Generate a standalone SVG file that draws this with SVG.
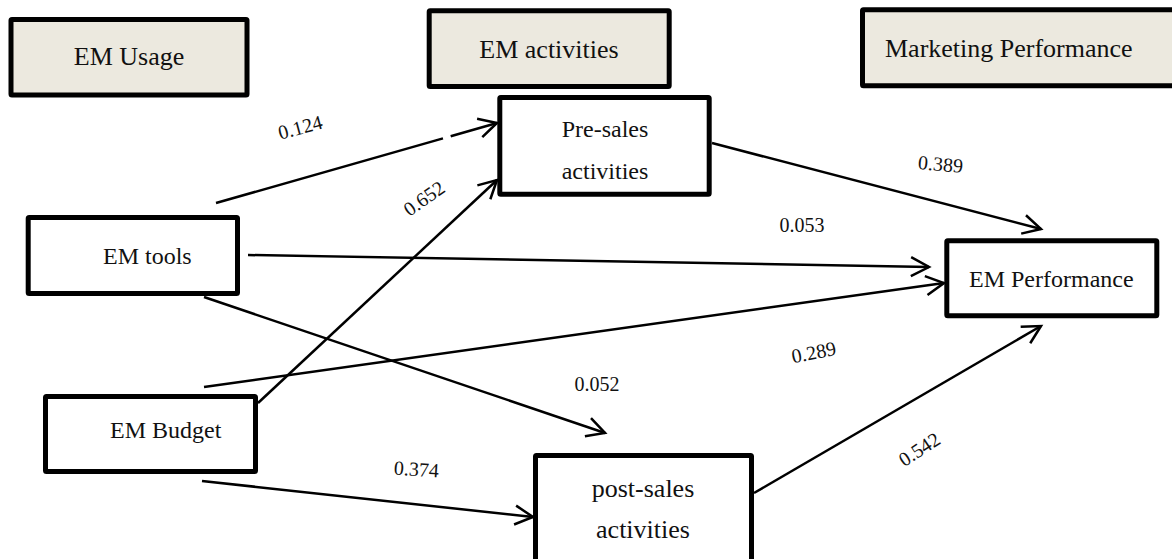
<svg xmlns="http://www.w3.org/2000/svg" width="1172" height="559" viewBox="0 0 1172 559">
<style>
  .hdr { fill: #ECE9DF; stroke: #000; stroke-width: 5; }
  .box { fill: #FFFFFF; stroke: #000; stroke-width: 5; }
  text { font-family: "Liberation Serif", "Times New Roman", serif; fill: #111; }
  .t26 { font-size: 26px; }
  .t24 { font-size: 24px; }
  .lbl { font-size: 20px; text-anchor: middle; }
  .mid { text-anchor: middle; }
  .edge { fill: none; stroke: #000; stroke-width: 2.5; stroke-linecap: butt; marker-end: url(#arr); }
</style>
<defs>
  <marker id="arr" markerUnits="userSpaceOnUse" markerWidth="30" markerHeight="30" viewBox="-24 -15 30 30" refX="0" refY="0" orient="auto" overflow="visible">
    <path d="M-18,-9.5 L0,0 L-18,9.5" fill="none" stroke="#000" stroke-width="2.5" stroke-linejoin="miter"/>
  </marker>
</defs>
<rect width="1172" height="559" fill="#FFFFFF"/>

<g id="edges">
  <path class="edge" d="M216,203 L497,123" stroke-dasharray="236 8 1000"/>
  <path class="edge" d="M258,403 L497,180"/>
  <path class="edge" d="M248,255 L929,267"/>
  <path class="edge" d="M204,387 L944,283"/>
  <path class="edge" d="M204,297 L605,433"/>
  <path class="edge" d="M202,481 L533,517"/>
  <path class="edge" d="M712,143 L1041,229"/>
  <path class="edge" d="M754,493 L1041,326"/>
  <text class="lbl" x="302" y="134" transform="rotate(-15 302 134)">0.124</text>
  <text class="lbl" x="428" y="204" transform="rotate(-35 428 204)">0.652</text>
  <text class="lbl" x="940" y="171" transform="rotate(5 940 171)">0.389</text>
  <text class="lbl" x="802" y="232">0.053</text>
  <text class="lbl" x="815" y="359" transform="rotate(-11 815 359)">0.289</text>
  <text class="lbl" x="597" y="391">0.052</text>
  <text class="lbl" x="416" y="476" transform="rotate(4 416 476)">0.374</text>
  <text class="lbl" x="923" y="455" transform="rotate(-33 923 455)">0.542</text>
</g>

<g id="hdr-usage">
  <rect class="hdr" x="11" y="19.5" width="236" height="75.5" rx="1"/>
  <text class="t26 mid" x="129" y="65">EM Usage</text>
</g>
<g id="hdr-activities">
  <rect class="hdr" x="429.2" y="10.8" width="240" height="75.7" rx="1"/>
  <text class="t26 mid" x="549" y="58">EM activities</text>
</g>
<g id="hdr-performance">
  <rect class="hdr" x="862.5" y="9.8" width="320" height="76" rx="1"/>
  <text class="t26" x="885" y="57">Marketing Performance</text>
</g>

<g id="node-presales">
  <rect class="box" x="499.8" y="97.5" width="209.4" height="96.7" rx="1"/>
  <text class="t24 mid" x="605" y="137">Pre-sales</text>
  <text class="t24 mid" x="605" y="179">activities</text>
</g>
<g id="node-tools">
  <rect class="box" x="28.2" y="217.5" width="209.3" height="76" rx="1"/>
  <text class="t24" x="103" y="264">EM tools</text>
</g>
<g id="node-budget">
  <rect class="box" x="45.5" y="396.5" width="210" height="75" rx="1"/>
  <text class="t24" x="110" y="438">EM Budget</text>
</g>
<g id="node-emperf">
  <rect class="box" x="946.8" y="240.8" width="210" height="75" rx="1"/>
  <text class="t24" x="969" y="287">EM Performance</text>
</g>
<g id="node-postsales">
  <rect class="box" x="535.5" y="455.5" width="216" height="110" rx="1"/>
  <text class="t26 mid" x="643" y="497">post-sales</text>
  <text class="t26 mid" x="643" y="538">activities</text>
</g>
</svg>
